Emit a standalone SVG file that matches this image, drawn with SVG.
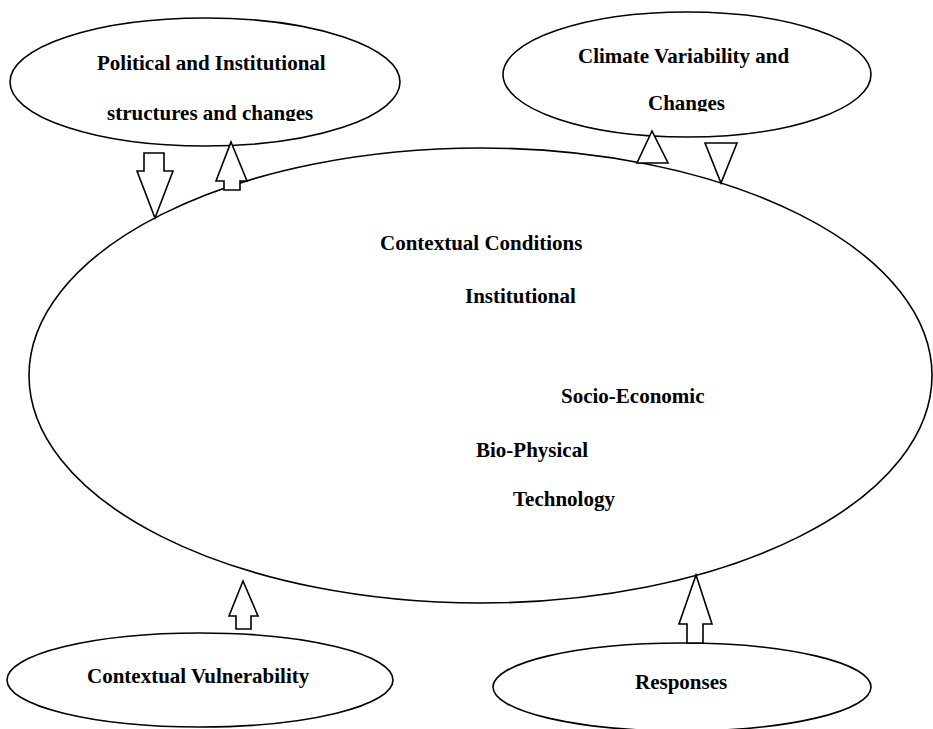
<svg xmlns="http://www.w3.org/2000/svg" width="933" height="729" viewBox="0 0 933 729">
<style>
  .shape { fill: #fff; stroke: #000; stroke-width: 1.6; }
  .arrow { fill: #fff; stroke: #000; stroke-width: 1.6; stroke-linejoin: miter; }
  text { font-family: "Liberation Serif", "Times New Roman", serif; font-weight: bold; font-size: 21px; fill: #000; }
</style>
<defs>
  <clipPath id="clipPol"><rect x="0" y="0" width="420" height="121"/></clipPath>
  <clipPath id="clipClim"><rect x="490" y="0" width="400" height="111.5"/></clipPath>
</defs>
<rect width="933" height="729" fill="#fff"/>

<g id="context">
  <ellipse class="shape" cx="480.5" cy="375.5" rx="451.5" ry="227.5"/>
  <text x="380" y="250">Contextual Conditions</text>
  <text x="465" y="303">Institutional</text>
  <text x="561" y="403">Socio-Economic</text>
  <text x="476" y="457">Bio-Physical</text>
  <text x="513" y="506">Technology</text>
</g>

<g id="political">
  <ellipse class="shape" cx="205" cy="82" rx="195" ry="64"/>
  <text x="97" y="70">Political and Institutional</text>
  <text x="107" y="120" clip-path="url(#clipPol)">structures and changes</text>
</g>

<g id="climate">
  <ellipse class="shape" cx="687" cy="74.5" rx="184" ry="62.5"/>
  <text x="578" y="63">Climate Variability and</text>
  <text x="648" y="110" clip-path="url(#clipClim)">Changes</text>
</g>

<g id="vulnerability">
  <ellipse class="shape" cx="200" cy="680" rx="193" ry="47"/>
  <text x="87" y="683">Contextual Vulnerability</text>
</g>

<g id="responses">
  <ellipse class="shape" cx="682" cy="687" rx="189" ry="44"/>
  <text x="635" y="689">Responses</text>
</g>

<g id="connectors">
  <!-- political -> context (down) -->
  <polygon class="arrow" points="144,153 164,153 164,171 173,171 155,218 137,171 144,171"/>
  <!-- context -> political (up) -->
  <polygon class="arrow" points="231,142 247,181 240,181 240,190 224,190 224,181 216,181"/>
  <!-- context -> climate (up triangle) -->
  <polygon class="arrow" points="652,131 668,163 637,163"/>
  <!-- climate -> context (down triangle) -->
  <polygon class="arrow" points="705,143 737,143 721,183"/>
  <!-- vulnerability -> context (up) -->
  <polygon class="arrow" points="243,581 258,616 251,616 251,629 236,629 236,616 229,616"/>
  <!-- responses -> context (up) -->
  <polygon class="arrow" points="696,575 712,624 703,624 703,643 687,643 687,624 679,624"/>
</g>
</svg>
